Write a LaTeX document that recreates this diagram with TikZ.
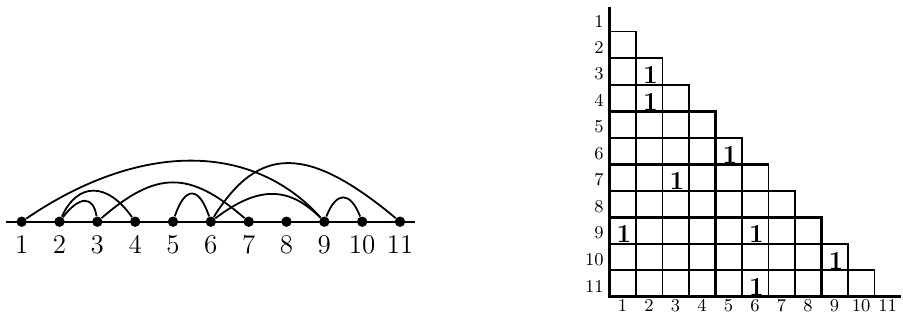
\documentclass[tikz,border=0pt]{standalone}
\usepackage{amsmath,amssymb}
\usepackage{tikz}
\usetikzlibrary{calc}
\tikzset{vertex/.style={circle,fill,inner sep=0pt,minimum size=5.2pt},
 edge/.style={line width=.9pt},cell/.style={line width=.8pt},bar/.style={line width=1.4pt},
 one/.style={anchor=base,inner sep=0pt,font=\fontsize{13}{15}\selectfont\bfseries}}

\begin{document}
\begin{tikzpicture}
\useasboundingbox (0,0) rectangle (15.868,5.711);
\coordinate (L) at (.105,1.815);
\coordinate (R) at (7.293,1.815);
\draw[edge] (L)--(R);
\foreach \i in {1,...,11} {
 \node[vertex] (v\i) at ({.381+.6648*(\i-1)},1.815) {};
 \node[anchor=base,font=\fontsize{13.5}{16}\selectfont] (n\i) at ({.381+.6648*(\i-1)},1.26) {\i};
}
\foreach \a/\b/\p/\q/\k in {1/9/2.07/1.27/1.41,6/11/.84/1.62/1.35,3/7/1.04/1.04/.9,
 2/4/.32/.49/.7,2/3/.35/.07/.46,5/6/.21/.21/.63,6/9/.83/.63/.63,9/10/.21/.21/.54}
 \draw[edge] (v\a) .. controls +(\p,\k) and +(-\q,\k) .. (v\b);
\begin{scope}[shift={(10.707,.497)},x=.4657cm,y=.4657cm]
\foreach \i [evaluate=\i as \m using int(\i-1)] in {2,...,11}
 \foreach \j in {1,...,\m}
  \draw[cell] (\j-1,11-\i) rectangle (\j,12-\i);
\draw[bar] (0,10.95)--(0,0)--(11,0);
\draw[bar] (0,7)--(4,7)--(4,0);
\draw[bar] (0,5)--(6,5);
\draw[bar] (0,3)--(8,3)--(8,0);
\foreach \i in {1,...,11} {
 \node[anchor=east,inner sep=1pt,font=\small] (r\i) at (-.12,11.4-\i) {\i};
 \node[anchor=base,inner sep=1pt,font=\small] (c\i) at (\i-.5,-.55) {\i};
}
\foreach \i/\j [count=\n] in {3/2,4/2,6/5,7/3,9/1,9/6,10/9,11/6}
 \node[one] (e\n) at (\j-.45,11.04-\i) {1};
\end{scope}
\end{tikzpicture}
\end{document}
